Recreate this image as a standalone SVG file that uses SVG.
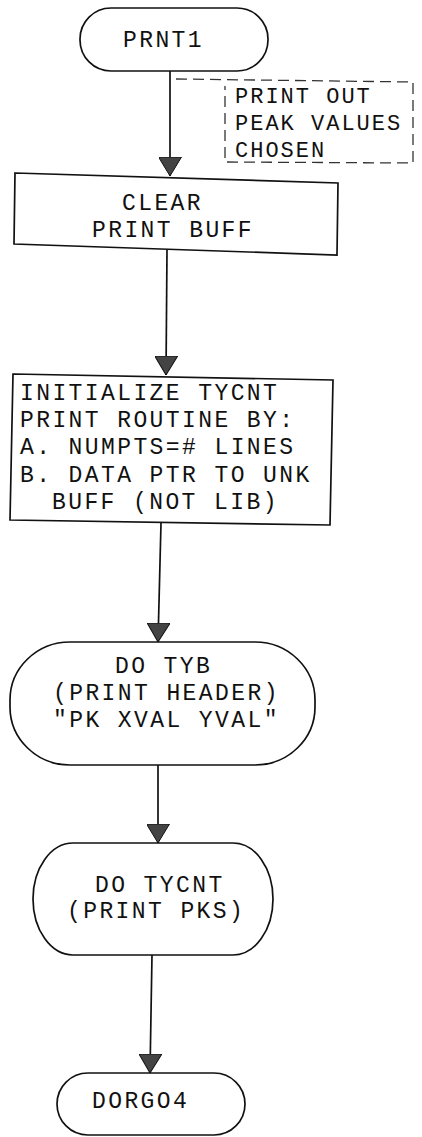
<svg xmlns="http://www.w3.org/2000/svg" width="422" height="1137" viewBox="0 0 422 1137">
<style>
.shape{fill:#fff;stroke:#111;stroke-width:1.7}
.t{font-family:"Liberation Mono","DejaVu Sans Mono",monospace;font-size:23px;letter-spacing:2.4px;fill:#111}
.ta{font-family:"Liberation Mono","DejaVu Sans Mono",monospace;font-size:22px;letter-spacing:2px;fill:#111}
.conn{fill:none;stroke:#111;stroke-width:1.7}
.dash{fill:none;stroke:#333;stroke-width:1.3;stroke-dasharray:11,6}
</style>
<defs>
<marker id="arr" markerUnits="userSpaceOnUse" markerWidth="19" markerHeight="23" viewBox="0 0 19 23" refX="19" refY="11.5" orient="auto">
<path d="M0,0 L19,11.5 L0,23 Z" fill="#444" stroke="#111" stroke-width="1"/>
</marker>
</defs>
<rect width="422" height="1137" fill="#fff"/>
<g id="connectors">
<path class="conn" d="M170,71 L170,176" marker-end="url(#arr)"/>
<path class="conn" d="M167,250 L166,375" marker-end="url(#arr)"/>
<path class="conn" d="M161,523 L158,642" marker-end="url(#arr)"/>
<path class="conn" d="M158,765 L158,843" marker-end="url(#arr)"/>
<path class="conn" d="M152,955 L150,1073" marker-end="url(#arr)"/>
</g>
<g id="note">
<path class="dash" d="M176,79 L413,82 L413,163 L225,162 L225,86"/>
<text class="ta" x="235" y="103">PRINT OUT</text>
<text class="ta" x="235" y="130">PEAK VALUES</text>
<text class="ta" x="235" y="157">CHOSEN</text>
</g>
<g id="prnt1">
<rect class="shape" x="80" y="8" width="188" height="63" rx="31" ry="31"/>
<text class="t" x="123" y="47">PRNT1</text>
</g>
<g id="clear">
<polygon class="shape" points="15,173 338,183 337,255 14,244"/>
<text class="t" x="122" y="210">CLEAR</text>
<text class="t" x="92" y="237">PRINT BUFF</text>
</g>
<g id="init">
<polygon class="shape" points="13,374 333,380 330,525 10,520"/>
<text class="t" x="20" y="400">INITIALIZE TYCNT</text>
<text class="t" x="20" y="427">PRINT ROUTINE BY:</text>
<text class="t" x="20" y="454">A. NUMPTS=# LINES</text>
<text class="t" x="20" y="482">B. DATA PTR TO UNK</text>
<text class="t" x="52" y="509">BUFF (NOT LIB)</text>
</g>
<g id="dotyb">
<rect class="shape" x="10" y="642" width="305" height="123" rx="60" ry="58"/>
<text class="t" x="115" y="673">DO TYB</text>
<text class="t" x="53" y="700">(PRINT HEADER)</text>
<text class="t" x="53" y="727">"PK XVAL YVAL"</text>
</g>
<g id="dotycnt">
<rect class="shape" x="33" y="843" width="240" height="112" rx="40" ry="56"/>
<text class="t" x="95" y="892">DO TYCNT</text>
<text class="t" x="67" y="918">(PRINT PKS)</text>
</g>
<g id="dorgo4">
<rect class="shape" x="57" y="1073" width="188" height="62" rx="31" ry="31"/>
<text class="t" x="92" y="1108">DORGO4</text>
</g>
</svg>
